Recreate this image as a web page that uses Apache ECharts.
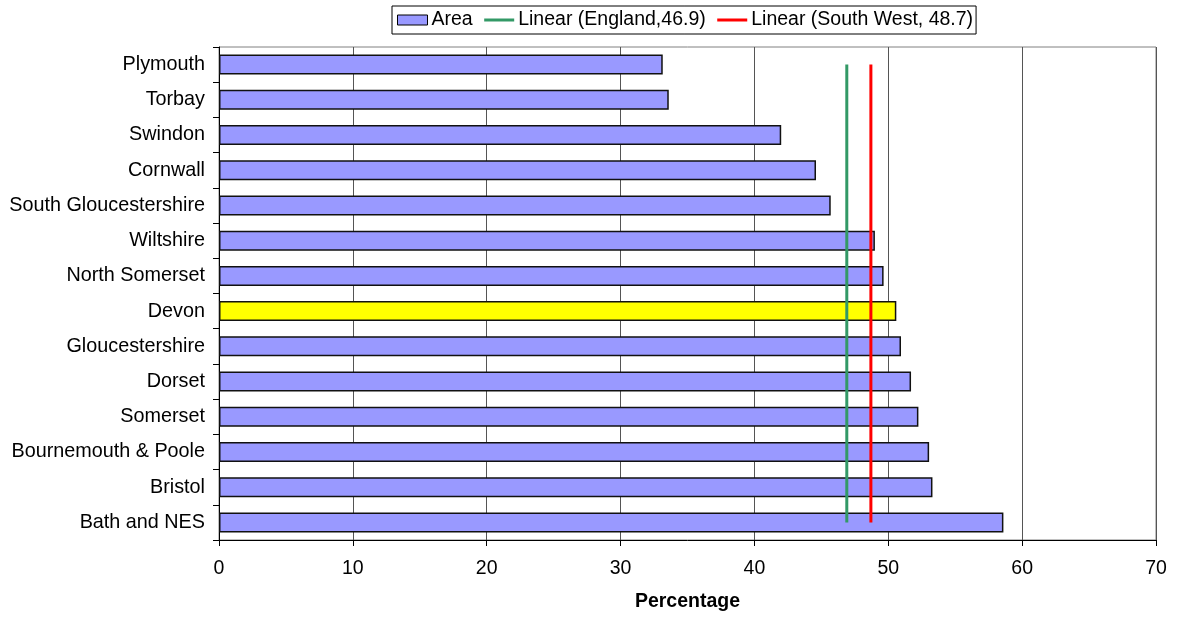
<!DOCTYPE html>
<html>
<head>
<meta charset="utf-8">
<script src="https://cdn.jsdelivr.net/npm/echarts@6/dist/echarts.min.js"></script>
<style>html,body{margin:0;padding:0;background:#fff}#c{width:1186px;height:617px}</style>
</head>
<body>
<div id="c"></div>
<script>
const categories = ["Plymouth","Torbay","Swindon","Cornwall","South Gloucestershire","Wiltshire","North Somerset","Devon","Gloucestershire","Dorset","Somerset","Bournemouth & Poole","Bristol","Bath and NES"];
const areaValues = [33.15, 33.6, 42.0, 44.6, 45.7, 49.0, 49.65, 50.6, 50.95, 51.7, 52.25, 53.05, 53.3, 58.6];
const highlight = "Devon";
const englandValue = 46.9;
const southWestValue = 48.7;
const xTicks = { min: 0, max: 70, interval: 10 };

const chart = echarts.init(document.getElementById('c'));
const FONT = '"Liberation Sans", Arial, sans-serif';
const FS = 19.5;
chart.setOption({
  animation: false,
  textStyle: { fontFamily: FONT },
  legend: {
    left: 392, top: 6,
    padding: [4, 3, 4, 5],
    borderColor: '#000', borderWidth: 1,
    itemGap: 10, itemWidth: 30, itemHeight: 10,
    textStyle: { fontSize: FS, color: '#000', fontFamily: FONT, padding: [0, 0, 0, -1] },
    data: [
      { name: 'Area', icon: 'rect', itemStyle: { color: '#9999FF', borderColor: '#000', borderWidth: 1 } },
      { name: 'Linear (England,46.9)', itemStyle: { opacity: 0 }, lineStyle: { color: '#339966', width: 3 } },
      { name: 'Linear (South West, 48.7)', itemStyle: { opacity: 0 }, lineStyle: { color: '#FF0000', width: 3 } }
    ]
  },
  grid: { left: 219, right: 30, top: 47, bottom: 77, show: true, borderColor: '#808080', borderWidth: 1, containLabel: false },
  xAxis: {
    type: 'value', min: xTicks.min, max: xTicks.max, interval: xTicks.interval,
    name: 'Percentage', nameLocation: 'middle', nameGap: 52,
    nameTextStyle: { fontSize: FS, fontWeight: 'bold', color: '#000', fontFamily: FONT, verticalAlign: 'top' },
    axisLine: { show: true, lineStyle: { color: '#000', width: 1 } },
    axisTick: { show: true, length: 6, lineStyle: { color: '#000' } },
    axisLabel: { fontSize: FS, color: '#000', margin: 19, fontFamily: FONT },
    splitLine: { show: true, lineStyle: { color: '#555', width: 1 } }
  },
  yAxis: {
    type: 'category', data: categories, inverse: true,
    axisLine: { show: true, lineStyle: { color: '#000', width: 1 } },
    axisTick: { show: true, length: 6, inside: false, lineStyle: { color: '#000' } },
    axisLabel: { fontSize: 19.8, color: '#000', margin: 14, fontFamily: FONT },
    splitLine: { show: false }
  },
  series: [
    {
      name: 'Area', type: 'bar', barWidth: 20,
      itemStyle: { color: '#9999FF', borderColor: '#111', borderWidth: 1.5 },
      data: areaValues.map((v, i) => categories[i] === highlight
        ? { value: v, itemStyle: { color: '#FFFF00' } } : v),
      z: 2
    },
    {
      name: 'Linear (England,46.9)', type: 'line', symbol: 'none',
      lineStyle: { color: '#339966', width: 3 }, itemStyle: { color: '#339966' },
      data: [[englandValue, categories[0]], [englandValue, categories[categories.length - 1]]],
      z: 3
    },
    {
      name: 'Linear (South West, 48.7)', type: 'line', symbol: 'none',
      lineStyle: { color: '#FF0000', width: 3 }, itemStyle: { color: '#FF0000' },
      data: [[southWestValue, categories[0]], [southWestValue, categories[categories.length - 1]]],
      z: 3
    }
  ]
});
</script>
</body>
</html>
